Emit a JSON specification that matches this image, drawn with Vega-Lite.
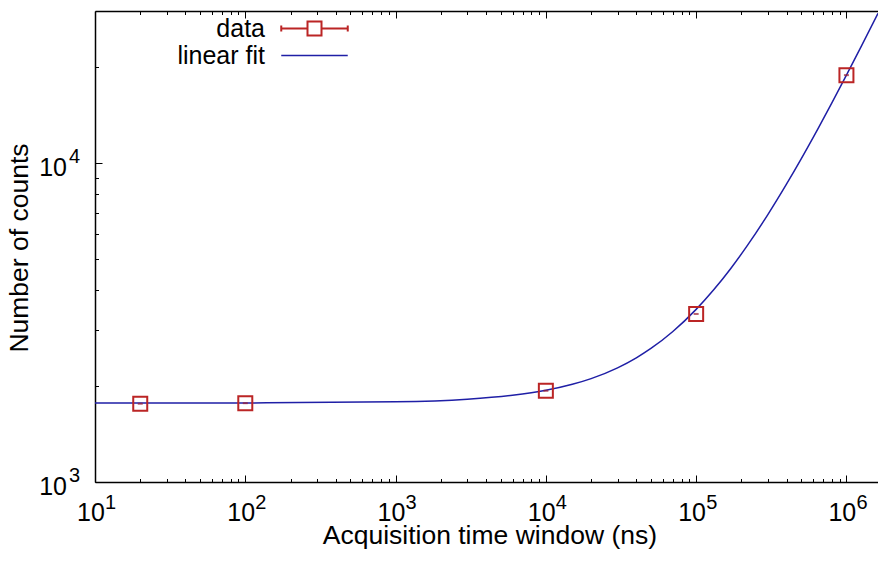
{
  "$schema": "https://vega.github.io/schema/vega-lite/v6.json",
  "width": 783,
  "height": 471,
  "autosize": {"type": "none"},
  "padding": {"left": 95, "top": 11, "right": 0, "bottom": 79},
  "background": "white",
  "config": {
    "font": "Liberation Sans",
    "view": {"stroke": null},
    "axis": {"grid": false, "labelFlush": false, "labelOverlap": false, "labelBound": false, "labelColor": "black", "tickColor": "black", "domainColor": "black", "titleColor": "black", "titleFontWeight": "normal", "tickWidth": 1, "domainWidth": 1.5}
  },
  "datasets": {
    "pts": [
      {"x": 20, "y": 1760, "series": "data"},
      {"x": 100, "y": 1767, "series": "data"},
      {"x": 10000, "y": 1932, "series": "data"},
      {"x": 100000, "y": 3365, "series": "data"},
      {"x": 1000000, "y": 18880, "series": "data"}
    ],
    "fit": [
      {"x": 10, "y": 1768, "series": "linear fit"},
      {"x": 100, "y": 1770, "series": "linear fit"},
      {"x": 1000, "y": 1785, "series": "linear fit"},
      {"x": 3000, "y": 1819, "series": "linear fit"},
      {"x": 6000, "y": 1871, "series": "linear fit"},
      {"x": 10000, "y": 1939, "series": "linear fit"},
      {"x": 15000, "y": 2025, "series": "linear fit"},
      {"x": 20000, "y": 2110, "series": "linear fit"},
      {"x": 30000, "y": 2281, "series": "linear fit"},
      {"x": 40000, "y": 2452, "series": "linear fit"},
      {"x": 50000, "y": 2623, "series": "linear fit"},
      {"x": 70000, "y": 2965, "series": "linear fit"},
      {"x": 100000, "y": 3478, "series": "linear fit"},
      {"x": 130000, "y": 3991, "series": "linear fit"},
      {"x": 170000, "y": 4675, "series": "linear fit"},
      {"x": 220000, "y": 5530, "series": "linear fit"},
      {"x": 300000, "y": 6898, "series": "linear fit"},
      {"x": 400000, "y": 8608, "series": "linear fit"},
      {"x": 500000, "y": 10318, "series": "linear fit"},
      {"x": 650000, "y": 12883, "series": "linear fit"},
      {"x": 800000, "y": 15448, "series": "linear fit"},
      {"x": 1000000, "y": 18868, "series": "linear fit"},
      {"x": 1250000, "y": 23143, "series": "linear fit"},
      {"x": 1622000, "y": 29504, "series": "linear fit"}
    ]
  },
  "resolve": {"axis": {"x": "independent", "y": "independent"}},
  "layer": [
    {
      "data": {"name": "fit"},
      "mark": {"type": "line", "strokeWidth": 1.5, "clip": true, "interpolate": "monotone"},
      "encoding": {
        "x": {"field": "x", "type": "quantitative",
          "scale": {"type": "log", "domain": [10, 1622000], "nice": false},
          "axis": {"orient": "bottom", "values": [10, 100, 1000, 10000, 100000, 1000000], "ticks": false, "domain": true,
            "labelExpr": "'10'", "labelFontSize": 25, "labelPadding": 38.7, "labelBaseline": "alphabetic", "labelAlign": "center", "labelOffset": -4.6,
            "title": "Acquisition time window (ns)", "titleFontSize": 26.5, "titleX": 394.4, "titleY": 61, "titleBaseline": "alphabetic", "titleAlign": "center"}},
        "y": {"field": "y", "type": "quantitative",
          "scale": {"type": "log", "domain": [1000, 30000], "nice": false},
          "axis": {"orient": "left", "values": [1000, 10000], "ticks": false, "domain": true,
            "labelExpr": "'10'", "labelFontSize": 25, "labelPadding": 28.5, "labelAlign": "right", "labelBaseline": "alphabetic", "labelOffset": 12,
            "title": "Number of counts", "titleFontSize": 26.5, "titleX": -67.5, "titleY": 236.5, "titleBaseline": "alphabetic", "titleAngle": 270, "titleAlign": "center"}},
        "stroke": {"field": "series", "type": "nominal",
          "scale": {"domain": ["data", "linear fit"], "range": ["#bb2525", "#1f1fa6"]},
          "legend": {"orient": "none", "legendX": 207, "legendY": 5, "title": null,
            "labelFontSize": 25, "labelAlign": "right", "labelOffset": -62, "labelColor": "black", "labelLimit": 300,
            "symbolSize": 196, "rowPadding": 1, "symbolStrokeWidth": 2,
            "encode": {"symbols": {"update": {
              "shape": {"signal": "datum.value === 'data' ? 'M-4.75,0L-1,0M1,0L4.75,0M-4.75,-0.43L-4.75,0.43M4.75,-0.43L4.75,0.43M-1,-1L1,-1L1,1L-1,1Z' : 'M-4.75,0L4.75,0'"},
              "fill": {"value": "transparent"},
              "strokeWidth": {"signal": "datum.value === 'data' ? 2 : 1.5"},
              "opacity": {"value": 1}}}}}}
      }
    },
    {
      "data": {"name": "pts"},
      "mark": {"type": "point", "shape": "square", "filled": false, "size": 196, "strokeWidth": 2, "opacity": 1},
      "encoding": {
        "x": {"field": "x", "type": "quantitative",
          "axis": {"orient": "bottom", "values": [10, 100, 1000, 10000, 100000, 1000000], "labels": false, "domain": false, "tickSize": -7, "title": null}},
        "y": {"field": "y", "type": "quantitative",
          "axis": {"orient": "left", "values": [1000, 10000], "labels": false, "domain": false, "tickSize": -7, "title": null}},
        "stroke": {"field": "series", "type": "nominal", "legend": null}
      }
    },
    {
      "data": {"name": "pts"},
      "mark": {"type": "tick", "orient": "horizontal", "size": 5, "thickness": 2, "color": "#9b1b30"},
      "encoding": {
        "x": {"field": "x", "type": "quantitative",
          "axis": {"orient": "bottom", "values": [20, 30, 40, 50, 60, 70, 80, 90, 200, 300, 400, 500, 600, 700, 800, 900, 2000, 3000, 4000, 5000, 6000, 7000, 8000, 9000, 20000, 30000, 40000, 50000, 60000, 70000, 80000, 90000, 200000, 300000, 400000, 500000, 600000, 700000, 800000, 900000], "labels": false, "domain": false, "tickSize": -3.5, "title": null}},
        "y": {"field": "y", "type": "quantitative",
          "axis": {"orient": "left", "values": [2000, 3000, 4000, 5000, 6000, 7000, 8000, 9000, 20000], "labels": false, "domain": false, "tickSize": -3.5, "title": null}}
      }
    },
    {
      "data": {"name": "pts"},
      "mark": {"type": "point", "opacity": 0},
      "encoding": {
        "x": {"field": "x", "type": "quantitative",
          "axis": {"orient": "top", "values": [10, 100, 1000, 10000, 100000, 1000000], "labels": false, "domain": true, "tickSize": -7, "title": null}},
        "y": {"field": "y", "type": "quantitative",
          "axis": {"orient": "left", "values": [1000, 10000], "ticks": false, "domain": false,
            "labelExpr": "format(round(log(datum.value)/LN10), 'd')", "labelFontSize": 20, "labelAlign": "left", "labelPadding": 26.5, "labelBaseline": "alphabetic", "labelOffset": -0.5, "title": null}}
      }
    },
    {
      "data": {"name": "pts"},
      "mark": {"type": "point", "opacity": 0},
      "encoding": {
        "x": {"field": "x", "type": "quantitative",
          "axis": {"orient": "top", "values": [20, 30, 40, 50, 60, 70, 80, 90, 200, 300, 400, 500, 600, 700, 800, 900, 2000, 3000, 4000, 5000, 6000, 7000, 8000, 9000, 20000, 30000, 40000, 50000, 60000, 70000, 80000, 90000, 200000, 300000, 400000, 500000, 600000, 700000, 800000, 900000], "labels": false, "domain": false, "tickSize": -3.5, "title": null}},
        "y": {"field": "y", "type": "quantitative", "axis": null}
      }
    },
    {
      "data": {"name": "pts"},
      "mark": {"type": "point", "opacity": 0},
      "encoding": {
        "x": {"field": "x", "type": "quantitative",
          "axis": {"orient": "bottom", "values": [10, 100, 1000, 10000, 100000, 1000000], "ticks": false, "domain": false,
            "labelExpr": "format(round(log(datum.value)/LN10), 'd')", "labelFontSize": 20, "labelAlign": "left", "labelPadding": 26.5, "labelBaseline": "alphabetic", "labelOffset": 9.5, "title": null}},
        "y": {"field": "y", "type": "quantitative", "axis": null}
      }
    }
  ]
}
